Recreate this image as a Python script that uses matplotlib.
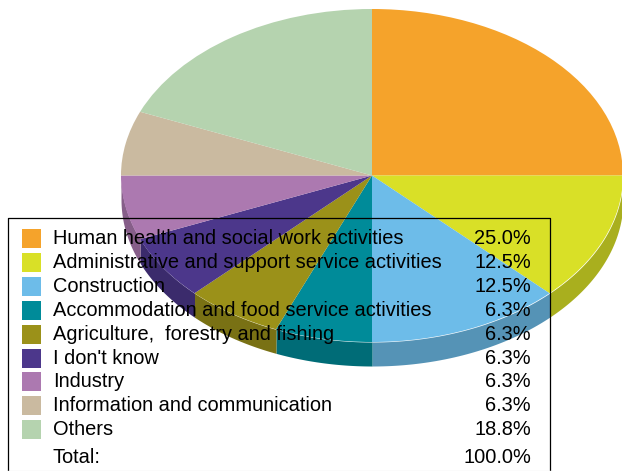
import numpy as np
import matplotlib
matplotlib.use("Agg")
import matplotlib.pyplot as plt
from matplotlib.colors import to_rgb
from matplotlib.patches import Rectangle
from matplotlib.transforms import Affine2D

categories = ["Human health and social work activities",
              "Administrative and support service activities",
              "Construction",
              "Accommodation and food service activities",
              "Agriculture,  forestry and fishing",
              "I don't know",
              "Industry",
              "Information and communication",
              "Others"]
values = [4, 2, 2, 1, 1, 1, 1, 1, 3]
percent_labels = ["25.0%", "12.5%", "12.5%", "6.3%", "6.3%", "6.3%", "6.3%", "6.3%", "18.8%"]
total_label = "100.0%"
colors = ["#f5a32b", "#d9e027", "#6dbce9", "#008b99", "#9b9119",
          "#4c378b", "#ac79b0", "#cabaa0", "#b5d3af"]

W, H = 622, 471
CX, CY = 372, 175.5   # pie centre, pixels from top left
RX, RY = 251, 166.5
DEPTH = 24
row_y = [238, 262, 286, 310, 334, 358, 381.5, 405.5, 429.5]
total_y = 457.5
FS = 14.45

plt.rcParams["font.family"] = ["Liberation Sans", "DejaVu Sans"]

fig = plt.figure(figsize=(W / 100, H / 100), dpi=100)
ax = fig.add_axes([0, 0, 1, 1])

# side wall, darker copy of each slice that faces the front
fracs = np.array(values) / sum(values)
ends = 90 - 360 * np.cumsum(fracs)
starts = ends + 360 * fracs
for a0, a1, c in zip(starts, ends, colors):
    a0, a1 = min(a0, 0), max(a1, -180)
    if a0 <= a1:
        continue
    t = np.radians(np.linspace(a0, a1, 100))
    x = CX + RX * np.cos(t)
    y = CY - RY * np.sin(t)
    ax.fill_between(x, y, y + DEPTH, color=tuple(v * 0.78 for v in to_rgb(c)), lw=0, zorder=1)

# top face, y axis points down so this still reads clockwise from 12 o'clock
wedges, _ = ax.pie(values, colors=colors, startangle=-90, counterclock=True,
                   wedgeprops={"lw": 0})

ax.set_aspect("auto")
ax.set_xlim(0, W)
ax.set_ylim(H, 0)
ax.axis("off")

# pie() draws a circle, squash it with an ellipse transform
squash = Affine2D().translate(-CX, -CY).scale(1, RY / RX).translate(CX, CY) + ax.transData
for w in wedges:
    w.set_center((CX, CY))
    w.set_radius(RX)
    w.set_transform(squash)
    w.set_zorder(2)

# legend table
ax.plot([8, 8, 550.4, 550.4], [470, 218, 218, 470], color="black", lw=0.9, zorder=3)
ax.plot([8, 551.5], [470.5, 470.5], color="#ececec", lw=1, zorder=3)
for y, c, name, pct in zip(row_y, colors, categories, percent_labels):
    ax.add_patch(Rectangle((22, y - 9.5), 19, 19, color=c, lw=0, zorder=3))
    ax.text(53, y, name, fontsize=FS, va="center", zorder=4)
    ax.text(531, y, pct, fontsize=FS, va="center", ha="right", zorder=4)
ax.text(52.5, total_y, "Total:", fontsize=FS, va="center", zorder=4)
ax.text(531, total_y, total_label, fontsize=FS, va="center", ha="right", zorder=4)

fig.savefig("out.png", dpi=100)
